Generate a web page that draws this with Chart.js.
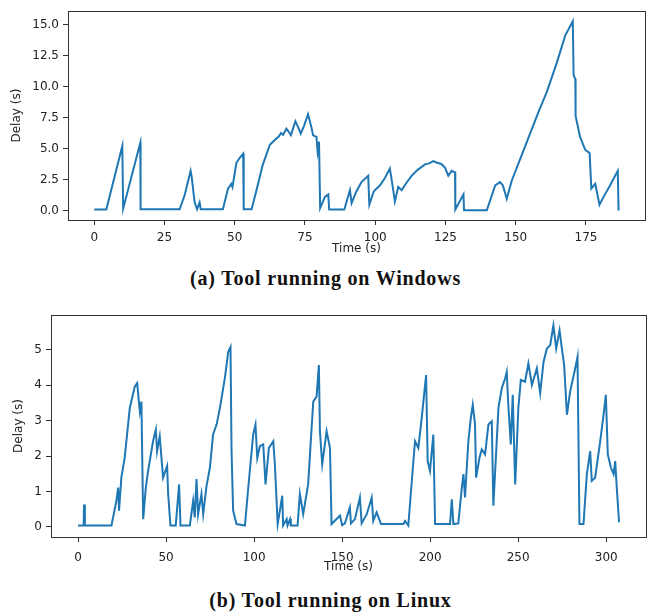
<!DOCTYPE html>
<html>
<head>
<meta charset="utf-8">
<script src="https://cdn.jsdelivr.net/npm/chart.js@4"></script>
<style>
  html, body { margin: 0; padding: 0; background: #fff; }
  body { width: 649px; height: 615px; position: relative; overflow: hidden; }
  canvas { position: absolute; left: 0; }
  #winChart { top: 0; }
  #linuxChart { top: 300px; }
  .caption {
    position: absolute; left: 0; width: 649px; text-align: center;
    font-family: "Liberation Serif", "DejaVu Serif", serif; font-weight: bold;
    font-size: 20px; letter-spacing: 0.8px; color: #111;
  }
</style>
</head>
<body>
<canvas id="winChart" width="649" height="260"></canvas>
<div class="caption" style="top: 267px; left: 1px;">(a) Tool running on Windows</div>
<canvas id="linuxChart" width="649" height="280"></canvas>
<div class="caption" style="top: 589px; left: 6px;">(b) Tool running on Linux</div>
<script>
// (a) Windows: delay readings over time
const winTime = [0, 4.3, 10.0, 10.3, 16.4, 16.5, 30.4, 32.2, 34.3, 34.7, 35.7, 36.6, 37.5, 37.9,
  45.8, 47.6, 48.8, 49.2, 50.6, 51.8, 53.0, 53.2, 56.0, 57.7, 60.0, 62.5, 63.6, 64.8, 65.6, 66.5,
  67.2, 68.4, 69.2, 70.0, 70.6, 71.6, 72.6, 73.5, 74.7, 76.1, 77.3, 77.9, 79.1, 79.5, 80.0, 80.4,
  82.1, 83.3, 83.6, 89.0, 91.0, 91.6, 93.2, 95.1, 97.5, 97.9, 99.5, 101.7, 103.4, 105.2, 105.8,
  107.0, 108.2, 109.4, 111.0, 113.0, 115.2, 117.7, 119.2, 120.7, 122.0, 123.5, 124.8, 126.0,
  127.2, 128.4, 128.5, 131.4, 131.6, 139.7, 142.7, 144.4, 145.4, 146.8, 148.6, 151.5, 155.1,
  158.0, 161.1, 164.6, 167.6, 170.3, 170.6, 171.2, 171.3, 172.9, 174.7, 176.3, 176.9, 178.3,
  179.8, 181.3, 183.6, 186.3, 186.6];
const winDelay = [0.08, 0.08, 5.2, 0.15, 5.47, 0.1, 0.1, 1.25, 3.2, 2.7, 0.7, 0.1, 0.65, 0.1,
  0.1, 1.77, 2.15, 1.9, 3.85, 4.25, 4.58, 0.1, 0.1, 1.6, 3.7, 5.3, 5.55, 5.8, 5.95, 6.25,
  6.1, 6.6, 6.35, 6.07, 6.5, 7.2, 6.7, 6.2, 6.85, 7.76, 6.7, 6.06, 5.94, 4.76, 5.55, 0.2,
  1.1, 1.3, 0.08, 0.08, 1.64, 0.6, 1.5, 2.29, 2.8, 0.47, 1.55, 2.03, 2.6, 3.38, 2.55,
  0.73, 1.9, 1.64, 2.2, 2.81, 3.3, 3.72, 3.8, 3.98, 3.85, 3.75, 3.46, 2.81,
  3.2, 3.07, 0.08, 1.3, 0.02, 0.02, 2.03, 2.29, 2.03, 0.94, 2.42, 4.1, 6.2,
  7.9, 9.58, 11.9, 14.1, 15.26, 10.9, 10.6, 7.63, 5.94, 4.9, 4.63, 1.77, 2.16,
  0.47, 1.12, 2.03, 3.2, 0.0];
const winXTicks = [0, 25, 50, 75, 100, 125, 150, 175];
const winYTicks = [0, 2.5, 5, 7.5, 10, 12.5, 15];

// (b) Linux: delay readings over time
const linuxTime = [0, 3.2, 3.4, 3.9, 19, 21.8, 22.8, 23.3, 24.6, 26.5, 29.4, 32.2, 33.6, 35.1, 36,
  37, 38.5, 39.8, 42.6, 44.2, 44.9, 46.4, 48.3, 50.6, 51.2, 52.5, 55.5, 57.4, 58.2, 63.5, 65.4,
  66.3, 67.3, 68.2, 70.1, 71.1, 73, 74.9, 76.7, 78.7, 80.6, 83.4, 85.3, 86.6, 87.2, 88.1, 90,
  94.8, 96.5, 97.6, 99.5, 100.8, 101.8, 103.3, 105.2, 106.5, 108.4, 110.9, 111.8, 113.4, 116,
  116.5, 118.5, 119, 120.4, 120.9, 124.7, 126, 127.9, 130.7, 133.6, 135.5, 136.8, 137.4, 138.7,
  141.2, 143.1, 144, 148.8, 150, 151.6, 154.4, 155, 157.3, 160.1, 161.1, 164, 166.8, 167.7,
  169.6, 172.1, 184.8, 185.7, 187.6, 189, 191.4, 193.3, 195.2, 197.7, 198.6, 199.9, 201.8,
  202.8, 211.3, 212.3, 213.2, 216, 218, 218.9, 219.8, 221.7, 223.1, 224.2, 225.5, 226.1, 228,
  229.3, 231.2, 233.1, 235, 235.9, 238.8, 240.7, 242.6, 243.5, 244.4, 245.8, 246.9, 248.3,
  250.1, 251.5, 253.9, 255.8, 257.8, 260.6, 262.5, 264.4, 266.3, 268.2, 270, 271.6, 273.5,
  274.8, 276.1, 277.7, 279.5, 282.4, 283.7, 284.8, 287.1, 289, 290.9, 291.8, 293.7, 296.6,
  298.5, 299.8, 300.9, 302.7, 304.2, 305.1, 306, 307.3];
const linuxDelay = [0.04, 0.04, 0.63, 0.04, 0.04, 0.74, 1.11, 0.46, 1.39, 1.95, 3.36, 3.96, 4.06, 3.26, 3.54,
  0.22, 1.11, 1.58, 2.42, 2.75, 2.14, 2.56, 1.39, 1.72, 0.93, 0.04, 0.04, 1.2, 0.04, 0.04, 0.74,
  0.27, 1.35, 0.36, 0.93, 0.36, 1.16, 1.67, 2.61, 2.89, 3.36, 4.2, 4.94, 5.08, 2.14, 0.46, 0.08,
  0.04, 1.0, 1.6, 2.61, 2.89, 1.95, 2.28, 2.33, 1.2, 2.23, 2.42, 1.77, 0.08, 0.88,
  0.04, 0.22, 0.04, 0.22, 0.04, 0.04, 0.93, 0.36, 1.2, 3.54, 3.68, 4.57, 2.7, 1.77,
  2.7, 2.23, 0.08, 0.32, 0.05, 0.1, 0.55, 0.1, 0.22, 0.83, 0.1, 0.36, 0.83, 0.17,
  0.41, 0.08, 0.08, 0.17, 0.04, 0.93, 2.42, 2.23, 3.07, 4.29, 1.86, 1.58, 2.61,
  0.08, 0.08, 0.78, 0.08, 0.1, 1.11, 1.49, 0.83, 2.42, 3.07, 3.45, 2.89, 1.39, 1.95,
  2.19, 2.05, 2.89, 2.98, 0.6, 3.36, 3.92, 4.2, 4.38, 3.45, 2.33, 3.73, 1.2,
  3.36, 4.15, 4.1, 4.62, 4.01, 4.48, 3.78, 4.66, 5.04, 5.13, 5.69, 5.04, 5.55,
  5.04, 4.57, 3.17, 3.82, 4.48, 4.8, 0.08, 0.08, 1.49, 2.14, 1.3, 1.39, 2.42,
  3.17, 3.73, 2.05, 1.67, 1.49, 1.86, 1.11, 0.13];
const linuxXTicks = [0, 50, 100, 150, 200, 250, 300];
const linuxYTicks = [0, 1, 2, 3, 4, 5];

const lineColor = '#1f77b4';
const axisColor = '#333';
const tickFont = { family: 'DejaVu Sans', size: 12 };

// matplotlib-style box around the plot area
const framePlugin = {
  id: 'frame',
  afterDraw(chart) {
    const { ctx, chartArea: a } = chart;
    ctx.save();
    ctx.strokeStyle = axisColor;
    ctx.lineWidth = 1;
    ctx.strokeRect(Math.round(a.left) + 0.5, Math.round(a.top) + 0.5,
      Math.round(a.right - a.left), Math.round(a.bottom - a.top));
    ctx.restore();
  }
};

function makeChart(id, times, delays, cfg) {
  const points = times.map((t, i) => ({ x: t, y: delays[i] }));
  return new Chart(document.getElementById(id), {
    type: 'line',
    data: {
      datasets: [{
        data: points,
        borderColor: lineColor,
        borderWidth: 2,
        pointRadius: 0,
        tension: 0
      }]
    },
    options: {
      responsive: false,
      animation: false,
      parsing: false,
      layout: { padding: cfg.padding },
      plugins: { legend: { display: false }, tooltip: { enabled: false } },
      scales: {
        x: {
          type: 'linear',
          min: cfg.xMin, max: cfg.xMax,
          afterBuildTicks: s => { s.ticks = cfg.xTicks.map(v => ({ value: v })); },
          afterFit: s => { s.height = cfg.xAxisHeight; },
          grid: { drawOnChartArea: false, tickLength: 5, color: axisColor },
          border: { display: false },
          ticks: { font: tickFont, color: '#222', padding: cfg.xTickPad, maxRotation: 0,
            callback: v => String(v) },
          title: { display: true, text: 'Time (s)', font: tickFont, color: '#222',
            padding: { top: 0, bottom: cfg.xTitlePad } }
        },
        y: {
          min: cfg.yMin, max: cfg.yMax,
          afterBuildTicks: s => { s.ticks = cfg.yTicks.map(v => ({ value: v })); },
          afterFit: s => { s.width = cfg.yAxisWidth; },
          grid: { drawOnChartArea: false, tickLength: 5, color: axisColor },
          border: { display: false },
          ticks: { font: tickFont, color: '#222', padding: 4, callback: cfg.yFormat },
          title: { display: true, text: 'Delay (s)', font: tickFont, color: '#222',
            padding: { top: cfg.yTitlePad, bottom: 0 } }
        }
      }
    },
    plugins: [framePlugin]
  });
}

makeChart('winChart', winTime, winDelay, {
  padding: { top: 4, right: 4, left: 0, bottom: 0 },
  xMin: -9.33, xMax: 196.0, yMin: -0.765, yMax: 16.07,
  xTicks: winXTicks, yTicks: winYTicks,
  xAxisHeight: 40, yAxisWidth: 68,
  xTickPad: 6, xTitlePad: 4, yTitlePad: 10,
  yFormat: v => v.toFixed(1)
});

makeChart('linuxChart', linuxTime, linuxDelay, {
  padding: { top: 15, right: 3, left: 0, bottom: 0 },
  xMin: -15.35, xMax: 322.6, yMin: -0.285, yMax: 5.985,
  xTicks: linuxXTicks, yTicks: linuxYTicks,
  xAxisHeight: 43, yAxisWidth: 51,
  xTickPad: 9, xTitlePad: 6, yTitlePad: 12,
  yFormat: v => String(v)
});
</script>
</body>
</html>
